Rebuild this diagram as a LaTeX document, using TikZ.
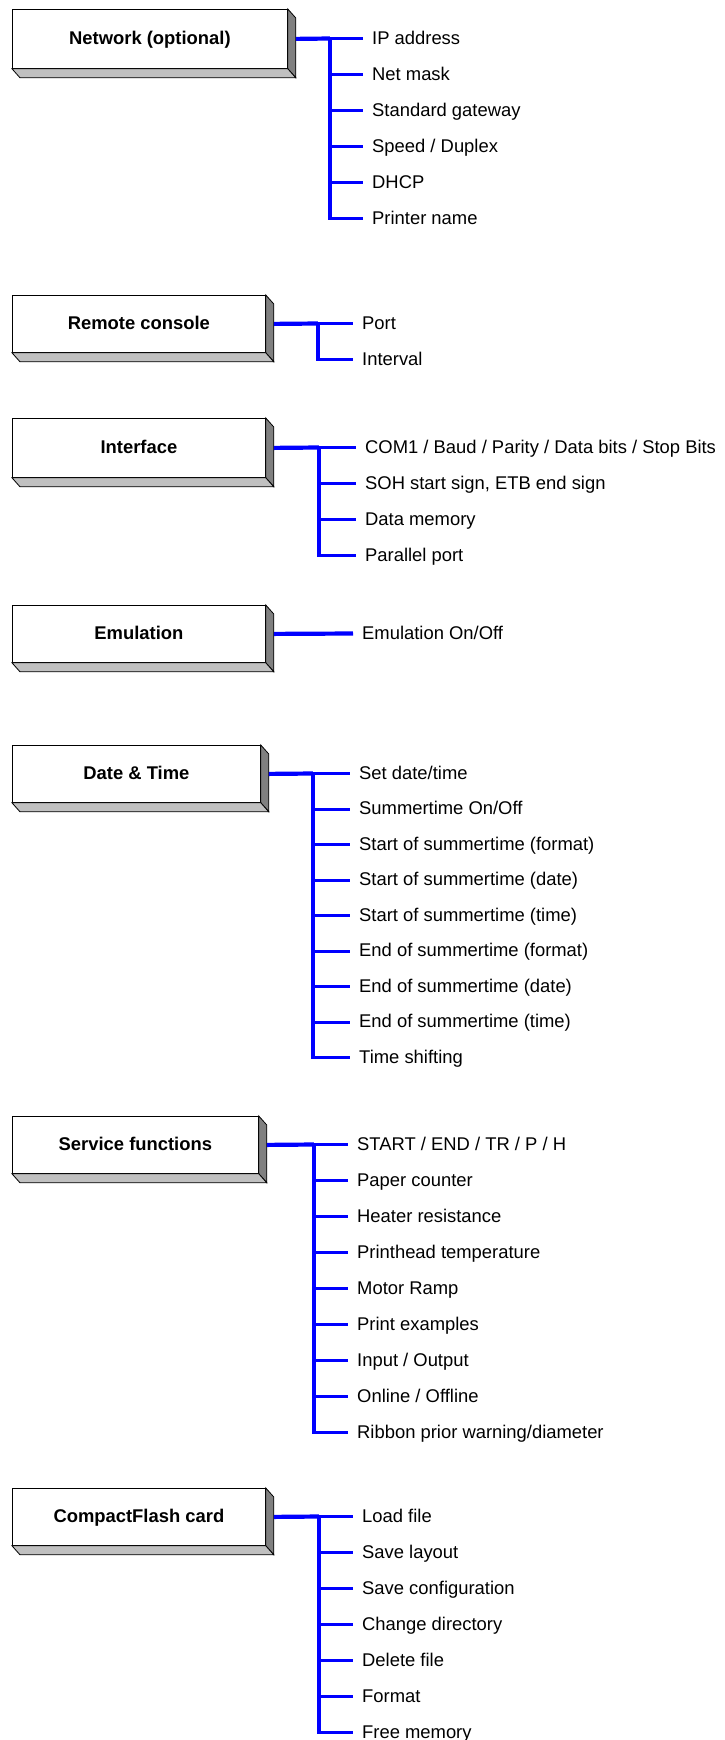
\documentclass[tikz,border=0pt]{standalone}
\usepackage{fontspec}
\setmainfont{Liberation Sans}
\usetikzlibrary{calc}

\definecolor{menublue}{RGB}{0,0,255}
\definecolor{sidegray}{RGB}{128,128,128}
\definecolor{basegray}{RGB}{192,192,192}
\newcommand\menufont{\fontsize{18.4}{22}\selectfont}

\tikzset{
  menu/.style={draw, fill=white, line width=0.8pt, anchor=north west,
    minimum height=57, inner sep=0pt, font=\menufont\bfseries,
    text height=11.2pt, text depth=0pt},
  item/.style={anchor=west, inner xsep=9pt, inner ysep=0pt, font=\menufont,
    text height=11.2pt, text depth=0pt},
  trunkline/.style={draw=menublue, line width=4.2pt},
  spineline/.style={draw=menublue, line width=3.6pt, line cap=rect},
  branchline/.style={draw=menublue, line width=3pt},
}

\begin{document}
\begin{tikzpicture}[x=1pt, y=-1pt]
  \useasboundingbox (0,0) rectangle (725,1740);
  % Menu boxes
  \node[menu, minimum width=275, minimum height=59] (net) at (12,9) {Network (optional)};
  \node[menu, minimum width=253] (rem) at (12,295) {Remote console};
  \node[menu, minimum width=253, minimum height=59] (int) at (12,418) {Interface};
  \node[menu, minimum width=253] (emu) at (12,605) {Emulation};
  \node[menu, minimum width=248] (dat) at (12,745) {Date \& Time};
  \node[menu, minimum width=246] (ser) at (12,1116) {Service functions};
  \node[menu, minimum width=253] (cf) at (12,1488) {CompactFlash card};
  % Shaded sides of the boxes
  \foreach \b in {net,rem,int,emu,dat,ser,cf} {
    \filldraw[fill=sidegray, line width=0.8pt] (\b.north east) -- ++(8,9)
      -- ([shift={(8,9)}]\b.south east) -- (\b.south east) -- cycle;
    \filldraw[fill=basegray, line width=0.8pt] (\b.south west) -- ++(8,9)
      -- ([shift={(8,9)}]\b.south east) -- (\b.south east) -- cycle;
  }

  % Network
  \foreach \t [count=\i] in {IP address, Net mask, Standard gateway,
      Speed / Duplex, DHCP, Printer name}
    \node[item] (net-\i) at (363, {38.5+36*(\i-1)}) {\t};
  \coordinate (net-j) at (330,38.5);
  \draw[trunkline] ([xshift=8pt]net.east) -- (net-j);
  \draw[spineline] (net-j) -- (net-j |- net-6.west);
  \foreach \i in {1,...,6}
    \draw[branchline] (net-j |- net-\i.west) -- (net-\i.west);

  % Remote console
  \foreach \t [count=\i] in {Port, Interval}
    \node[item] (rem-\i) at (353, {323.5+36*(\i-1)}) {\t};
  \coordinate (rem-j) at (318,323.5);
  \draw[trunkline] ([xshift=8pt]rem.east) -- (rem-j);
  \draw[spineline] (rem-j) -- (rem-j |- rem-2.west);
  \foreach \i in {1,2}
    \draw[branchline] (rem-j |- rem-\i.west) -- (rem-\i.west);

  % Interface
  \foreach \t [count=\i] in {COM1 / Baud / Parity / Data bits / Stop Bits,
      {SOH start sign, ETB end sign}, Data memory, Parallel port}
    \node[item] (int-\i) at (356, {447.5+36*(\i-1)}) {\t};
  \coordinate (int-j) at (319,447.5);
  \draw[trunkline] ([xshift=8pt]int.east) -- (int-j);
  \draw[spineline] (int-j) -- (int-j |- int-4.west);
  \foreach \i in {1,...,4}
    \draw[branchline] (int-j |- int-\i.west) -- (int-\i.west);

  % Emulation
  \node[item] (emu-1) at (353,633.5) {Emulation On/Off};
  \draw[trunkline] ([xshift=8pt]emu.east) -- (emu-1.west);

  % Date & Time
  \foreach \t [count=\i] in {Set date/time, Summertime On/Off,
      Start of summertime (format), Start of summertime (date),
      Start of summertime (time), End of summertime (format),
      End of summertime (date), End of summertime (time), Time shifting}
    \node[item] (dat-\i) at (350, {773.5+35.5*(\i-1)}) {\t};
  \coordinate (dat-j) at (313,773.5);
  \draw[trunkline] ([xshift=8pt]dat.east) -- (dat-j);
  \draw[spineline] (dat-j) -- (dat-j |- dat-9.west);
  \foreach \i in {1,...,9}
    \draw[branchline] (dat-j |- dat-\i.west) -- (dat-\i.west);

  % Service functions
  \foreach \t [count=\i] in {START / END / TR / P / H, Paper counter,
      Heater resistance, Printhead temperature, Motor Ramp, Print examples,
      Input / Output, Online / Offline, Ribbon prior warning/diameter}
    \node[item] (ser-\i) at (348, {1144.5+36*(\i-1)}) {\t};
  \coordinate (ser-j) at (314,1144.5);
  \draw[trunkline] ([xshift=8pt]ser.east) -- (ser-j);
  \draw[spineline] (ser-j) -- (ser-j |- ser-9.west);
  \foreach \i in {1,...,9}
    \draw[branchline] (ser-j |- ser-\i.west) -- (ser-\i.west);

  % CompactFlash card
  \foreach \t [count=\i] in {Load file, Save layout, Save configuration,
      Change directory, Delete file, Format, Free memory}
    \node[item] (cf-\i) at (353, {1516.5+36*(\i-1)}) {\t};
  \coordinate (cf-j) at (319,1516.5);
  \draw[trunkline] ([xshift=8pt]cf.east) -- (cf-j);
  \draw[spineline] (cf-j) -- (cf-j |- cf-7.west);
  \foreach \i in {1,...,7}
    \draw[branchline] (cf-j |- cf-\i.west) -- (cf-\i.west);
\end{tikzpicture}
\end{document}
